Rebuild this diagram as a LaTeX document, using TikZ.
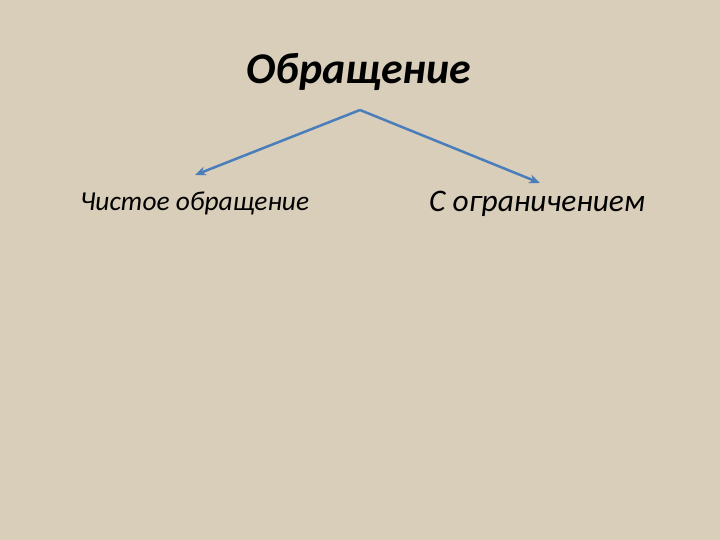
\documentclass[tikz,border=0pt]{standalone}
\usepackage{fontspec}
\setmainfont{Carlito}
\usetikzlibrary{arrows.meta}
\definecolor{bg}{RGB}{216,206,186}
\definecolor{arr}{RGB}{74,126,187}
\tikzset{
  conn/.style={draw=arr, line width=2.5bp, -{Stealth[length=11bp,width=9bp]}},
  lbl/.style={inner sep=0pt, anchor=base west, text=black}
}
\begin{document}
\begin{tikzpicture}[x=1bp,y=-1bp]
\fill[bg] (0,0) rectangle (720,540);
\useasboundingbox (0,0) rectangle (720,540);
\node[inner sep=0pt, anchor=base, font=\fontsize{44}{52}\selectfont\bfseries\itshape] (title) at (359,84) {Обращение};
\coordinate (top) at (360,110);
\node[lbl, font=\fontsize{27.5}{33}\selectfont\itshape] (left) at (80,211) {Чистое обращение};
\node[lbl, font=\fontsize{31.5}{38}\selectfont\itshape] (right) at (429,212) {С ограничением};
\coordinate (lend) at (195,175);
\coordinate (rend) at (540,183);
\draw[conn] (top) -- (lend);
\draw[conn] (top) -- (rend);
\end{tikzpicture}
\end{document}
